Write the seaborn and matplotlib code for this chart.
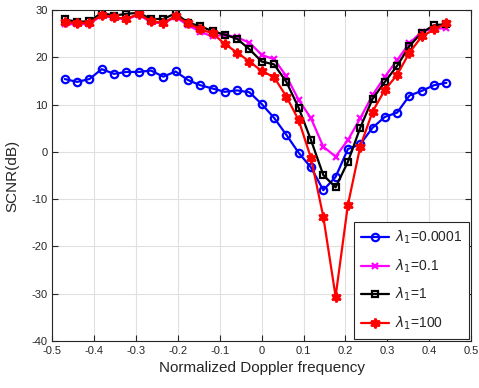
import numpy as np
import pandas as pd
import matplotlib
matplotlib.use("Agg")
import matplotlib.pyplot as plt
import seaborn as sns

# Normalized Doppler frequency k/34, k=-16..15
k_index = list(range(-16, 16))
freq = [k / 34 for k in k_index]

snr_l0001 = [15.4, 14.8, 15.4, 17.5, 16.5, 16.9, 16.9, 17.2, 15.9, 17.0, 15.2, 14.1,
             13.4, 12.7, 13.0, 12.6, 10.1, 7.2, 3.6, -0.2, -3.3, -8.1, -5.3, 0.6,
             1.6, 5.1, 7.4, 8.3, 11.9, 12.9, 14.1, 14.6]
snr_l01 = [27.0, 27.0, 27.1, 28.8, 28.3, 28.0, 29.0, 27.4, 27.2, 28.5, 26.8, 25.4,
           24.4, 24.8, 24.2, 23.1, 20.5, 19.6, 16.0, 11.0, 7.1, 1.1, -1.0, 2.5,
           7.1, 12.0, 15.9, 19.4, 23.0, 25.4, 26.1, 26.1]
snr_l1 = [28.0, 27.5, 27.6, 29.4, 28.8, 29.2, 29.4, 28.1, 28.1, 29.3, 27.3, 26.6,
          25.5, 24.8, 23.9, 21.7, 19.1, 18.5, 14.8, 9.3, 2.5, -4.9, -7.5, -2.1,
          5.1, 11.2, 14.8, 18.2, 22.4, 25.2, 26.8, 27.0]
snr_l100 = [27.5, 27.2, 27.3, 28.9, 28.5, 28.1, 29.2, 27.6, 27.3, 28.7, 27.2, 25.9,
            25.1, 22.8, 21.0, 19.1, 17.1, 15.8, 11.7, 6.7, -1.3, -13.7, -30.6, -11.2,
            1.1, 8.5, 13.1, 16.3, 21.0, 24.4, 25.9, 27.2]

labels = [r"$\lambda_1$=0.0001", r"$\lambda_1$=0.1", r"$\lambda_1$=1", r"$\lambda_1$=100"]
series = [snr_l0001, snr_l01, snr_l1, snr_l100]
colors = ["#0000FF", "#FF00FF", "#000000", "#FF0000"]
markers = ["o", "x", "s", (6, 1, 0)]
mfcs = ["none", "#FF00FF", "none", "#FF0000"]
msizes = [5.3, 5, 4.5, 7]

xticks = [-0.5, -0.4, -0.3, -0.2, -0.1, 0, 0.1, 0.2, 0.3, 0.4, 0.5]
xticklabels = ["-0.5", "-0.4", "-0.3", "-0.2", "-0.1", "0", "0.1", "0.2", "0.3", "0.4", "0.5"]
yticks = [-40, -30, -20, -10, 0, 10, 20, 30]
yticklabels = ["-40", "-30", "-20", "-10", "0", "10", "20", "30"]

sns.set_style("white")
plt.rcParams["font.family"] = ["Liberation Sans", "DejaVu Sans"]
plt.rcParams["mathtext.fontset"] = "dejavusans"
plt.rcParams["axes.unicode_minus"] = False

fig = plt.figure(figsize=(4.79, 3.88), dpi=100)
ax = fig.add_axes([0.1096, 0.1211, 0.8737, 0.8531])

for lab, y, c, m, mfc, ms in zip(labels, series, colors, markers, mfcs, msizes):
    df = pd.DataFrame({"f": freq, "v": y})
    sns.lineplot(data=df, x="f", y="v", ax=ax, color=c, marker=m, markersize=ms,
                 markerfacecolor=mfc, markeredgecolor=c, markeredgewidth=1.6,
                 linewidth=1.6, label=lab)

ax.set_xlim(-0.5, 0.5)
ax.set_ylim(-40, 30)
ax.set_xticks(xticks)
ax.set_xticklabels(xticklabels)
ax.set_yticks(yticks)
ax.set_yticklabels(yticklabels)
ax.grid(True, color="#e0e0e0", linewidth=0.8)
ax.tick_params(direction="in", length=4, width=0.8, labelsize=8, colors="#262626",
               top=True, right=True, bottom=True, left=True)
for s in ax.spines.values():
    s.set_color("#262626")
    s.set_linewidth(0.8)
ax.set_xlabel("Normalized Doppler frequency", fontsize=11, color="#262626")
ax.set_ylabel("SCNR(dB)", fontsize=11, color="#262626", labelpad=9)

leg = ax.legend(loc="lower right", fontsize=10, frameon=True, fancybox=False,
                edgecolor="#262626", framealpha=1, borderaxespad=0.15,
                handlelength=2.0, handletextpad=0.4, labelspacing=0.8,
                borderpad=0.5)
leg.get_frame().set_linewidth(0.8)

fig.savefig("out.png", dpi=100)
